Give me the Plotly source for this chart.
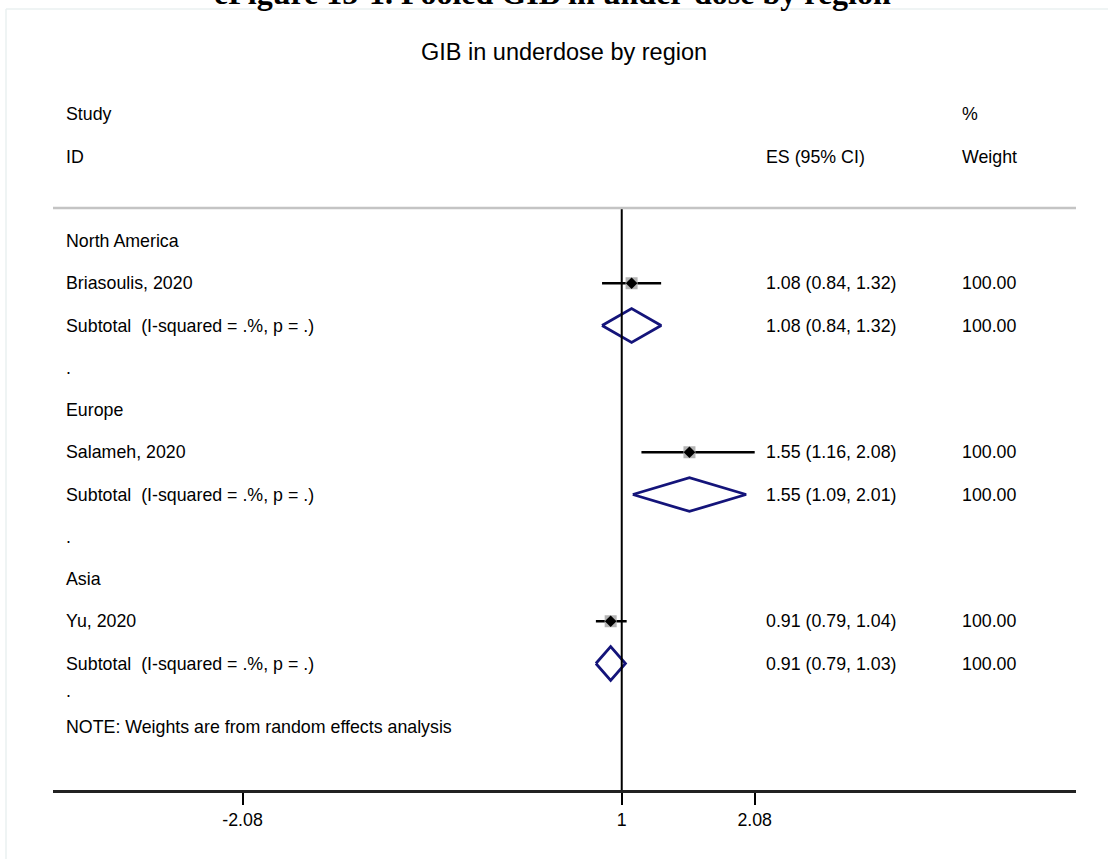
import plotly.graph_objects as go

# ---------------- data ----------------
regions = ["North America", "Europe", "Asia"]
studies = ["Briasoulis, 2020", "Salameh, 2020", "Yu, 2020"]
study_es = [1.08, 1.55, 0.91]
study_lo = [0.84, 1.16, 0.79]
study_hi = [1.32, 2.08, 1.04]
study_w = [100.00, 100.00, 100.00]
sub_es = [1.08, 1.55, 0.91]
sub_lo = [0.84, 1.09, 0.79]
sub_hi = [1.32, 2.01, 1.03]
sub_w = [100.00, 100.00, 100.00]
subtotal_label = "Subtotal  (I-squared = .%, p = .)"
tick_vals = [-2.08, 1, 2.08]
tick_text = ["-2.08", "1", "2.08"]
title_text = "GIB in underdose by region"
fig_caption = "eFigure 15-1. Pooled GIB in under-dose by region"
note_text = "NOTE: Weights are from random effects analysis"

# ---------------- layout constants ----------------
W, H = 1108, 859
L, R = 53, 1076          # plot area pixel x
T, B = 208, 790          # plot area pixel y
X_RANGE = [-3.62, 4.69]
ROW0_PIX = 241
ROW_H = 42.25
Y_TOP = (T - ROW0_PIX) / ROW_H
Y_BOT = (B - ROW0_PIX) / ROW_H

FONT = "Liberation Sans, Arial, sans-serif"
FS = 17.8
NAVY = "#14147a"


def px_x(px):
    return (px - L) / (R - L)


def px_y(py):
    return (B - py) / (B - T)


fig = go.Figure()
annotations = []


def txt(text, x, py, size=FS, anchor="left", family=FONT):
    annotations.append(dict(text=text, x=x, y=px_y(py), xref="paper", yref="paper",
                            xanchor=anchor, yanchor="middle", showarrow=False,
                            font=dict(family=family, size=size, color="black")))


def row_px(r):
    return ROW0_PIX + r * ROW_H


COL_LABEL = px_x(64)
COL_ES = px_x(764)
COL_W = px_x(960)

row = 0
for i, reg in enumerate(regions):
    txt(reg, COL_LABEL, row_px(row))
    # study row
    r_s = row + 1
    fig.add_trace(go.Scatter(x=[study_lo[i], study_hi[i]], y=[r_s, r_s], mode="lines",
                             line=dict(color="black", width=2.5), hoverinfo="skip"))
    fig.add_trace(go.Scatter(x=[study_es[i]], y=[r_s], mode="markers",
                             marker=dict(symbol="square", size=12, color="#b4b4b4"),
                             hoverinfo="skip"))
    fig.add_trace(go.Scatter(x=[study_es[i]], y=[r_s], mode="markers",
                             marker=dict(symbol="diamond", size=9, color="black"),
                             hoverinfo="skip"))
    txt(studies[i], COL_LABEL, row_px(r_s))
    txt(f"{study_es[i]:.2f} ({study_lo[i]:.2f}, {study_hi[i]:.2f})", COL_ES, row_px(r_s))
    txt(f"{study_w[i]:.2f}", COL_W, row_px(r_s))
    # subtotal row
    r_t = row + 2
    hh = 0.40
    fig.add_trace(go.Scatter(
        x=[sub_lo[i], sub_es[i], sub_hi[i], sub_es[i], sub_lo[i]],
        y=[r_t, r_t - hh, r_t, r_t + hh, r_t], mode="lines",
        line=dict(color=NAVY, width=2.8), hoverinfo="skip"))
    txt(subtotal_label, COL_LABEL, row_px(r_t))
    txt(f"{sub_es[i]:.2f} ({sub_lo[i]:.2f}, {sub_hi[i]:.2f})", COL_ES, row_px(r_t))
    txt(f"{sub_w[i]:.2f}", COL_W, row_px(r_t))
    if i < len(regions) - 1:
        txt(".", COL_LABEL, row_px(row + 3))
    row += 4

# trailing dot + note
txt(".", COL_LABEL, 691)
txt(note_text, COL_LABEL, 727)

# headers
txt("Study", COL_LABEL, row_px(-3))
txt("ID", COL_LABEL, row_px(-2))
txt("ES (95% CI)", COL_ES, row_px(-2))
txt("%", COL_W, row_px(-3))
txt("Weight", COL_W, row_px(-2))
txt(title_text, px_x(564), 52, size=23.5, anchor="center")
# clipped caption at top of page
txt("<b>" + fig_caption + "</b>", px_x(552), -7, size=32,
    anchor="center", family="Liberation Serif, Times New Roman, serif")

shapes = [
    # null line
    dict(type="line", xref="x", yref="paper", x0=1, x1=1, y0=0, y1=1,
         line=dict(color="black", width=2)),
    # header separator
    dict(type="line", xref="paper", yref="paper", x0=0, x1=1, y0=1, y1=1,
         line=dict(color="#c4c4c4", width=2.5)),
    # faint page border
    dict(type="line", xref="paper", yref="paper", x0=px_x(6), x1=px_x(1108), y0=px_y(9), y1=px_y(9),
         line=dict(color="#eaf0f0", width=1.5)),
    dict(type="line", xref="paper", yref="paper", x0=px_x(6), x1=px_x(6), y0=px_y(9), y1=px_y(859),
         line=dict(color="#eaf0f0", width=1.5)),
]

fig.update_layout(
    width=W, height=H,
    margin=dict(l=L, r=W - R, t=T, b=H - B, pad=0),
    paper_bgcolor="white", plot_bgcolor="white",
    showlegend=False,
    annotations=annotations,
    shapes=shapes,
    xaxis=dict(range=X_RANGE, showgrid=False, zeroline=False, showline=True,
               linecolor="#222222", linewidth=3, ticks="outside", ticklen=12,
               tickwidth=1.5, tickcolor="black", tickvals=tick_vals, ticktext=tick_text,
               tickfont=dict(family=FONT, size=FS, color="black"), fixedrange=True),
    yaxis=dict(range=[Y_BOT, Y_TOP], showgrid=False, zeroline=False, showline=False,
               showticklabels=False, ticks="", fixedrange=True),
)

fig.write_html("out.html")
